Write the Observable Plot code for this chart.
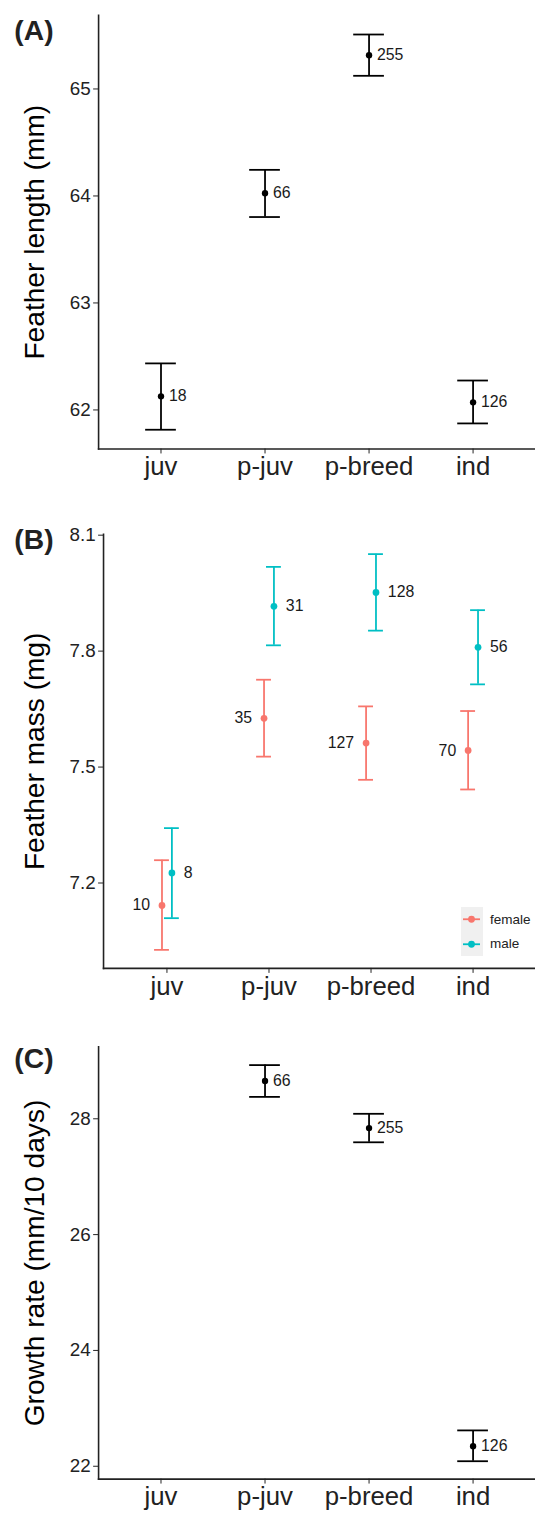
<!DOCTYPE html>
<html>
<head>
<meta charset="utf-8">
<script src="https://cdn.jsdelivr.net/npm/d3@7"></script>
<script src="https://cdn.jsdelivr.net/npm/@observablehq/plot@0.6"></script>
<style>
  html, body { margin: 0; padding: 0; background: #fff; overflow: hidden; }
  #wrap { position: relative; width: 535px; height: 1516px; overflow: hidden; font-family: "Liberation Sans", Arial, sans-serif; }
  .panel { position: absolute; left: 0; }
  .legend { position: absolute; font-size: 13.5px; color: #222; }
</style>
</head>
<body>
<div id="wrap"></div>
<script>
// ---------- data ----------
const stages = ["juv", "p-juv", "p-breed", "ind"];

// (A) Feather length (mm)
const lenMean = [62.127, 64.025, 65.315, 62.071];
const lenLo   = [61.815, 63.803, 65.123, 61.874];
const lenHi   = [62.435, 64.244, 65.509, 62.275];
const lenN    = [18, 66, 255, 126];
const lenTicks = [62, 63, 64, 65];

// (B) Feather mass (mg), by sex
const sexes = ["female", "male"];
const sexColors = ["#F8766D", "#00BFC4"];
const massFemaleMean = [7.142, 7.626, 7.562, 7.543];
const massFemaleLo   = [7.027, 7.527, 7.467, 7.442];
const massFemaleHi   = [7.259, 7.726, 7.657, 7.645];
const massFemaleN    = [10, 35, 127, 70];
const massMaleMean = [7.226, 7.916, 7.952, 7.810];
const massMaleLo   = [7.109, 7.815, 7.853, 7.714];
const massMaleHi   = [7.342, 8.018, 8.051, 7.906];
const massMaleN    = [8, 31, 128, 56];
const massTicks = [7.2, 7.5, 7.8, 8.1];

// (C) Growth rate (mm/10 days)
const rateStages = ["p-juv", "p-breed", "ind"];
const rateMean = [28.653, 27.840, 22.345];
const rateLo   = [28.378, 27.594, 22.087];
const rateHi   = [28.927, 28.086, 22.619];
const rateN    = [66, 255, 126];
const rateTicks = [22, 24, 26, 28];

const panelTags = ["(A)", "(B)", "(C)"];
const yTitles = ["Feather length (mm)", "Feather mass (mg)", "Growth rate (mm/10 days)"];

// ---------- build tables ----------
const lenData = stages.map((s, i) => ({stage: s, mean: lenMean[i], lo: lenLo[i], hi: lenHi[i], n: lenN[i]}));
const femaleData = stages.map((s, i) => ({stage: s, sex: sexes[0], mean: massFemaleMean[i], lo: massFemaleLo[i], hi: massFemaleHi[i], n: massFemaleN[i]}));
const maleData = stages.map((s, i) => ({stage: s, sex: sexes[1], mean: massMaleMean[i], lo: massMaleLo[i], hi: massMaleHi[i], n: massMaleN[i]}));
const rateData = rateStages.map((s, i) => ({stage: s, mean: rateMean[i], lo: rateLo[i], hi: rateHi[i], n: rateN[i]}));

// y-axis domain limits
const lenDomain = [61.635, 65.688];
const massDomain = [6.979, 8.1026];
const rateDomain = [21.778, 29.242];

const FONT = '"Liberation Sans", Arial, Helvetica, sans-serif';
const INK = "#1a1a1a";

function errorMarks(data, color, opts) {
  const {dx = 0, cap = 15.5, r = 3.2, labelDx = 8, labelAnchor = "start"} = opts;
  return [
    Plot.ruleX(data, {x: "stage", y1: "lo", y2: "hi", stroke: color, strokeWidth: 1.8, dx}),
    Plot.ruleY(data, {x1: "stage", x2: "stage", y: "hi", stroke: color, strokeWidth: 1.8, insetLeft: -cap, insetRight: -cap, dx}),
    Plot.ruleY(data, {x1: "stage", x2: "stage", y: "lo", stroke: color, strokeWidth: 1.8, insetLeft: -cap, insetRight: -cap, dx}),
    Plot.dot(data, {x: "stage", y: "mean", r, fill: color, stroke: null, dx}),
    Plot.text(data, {x: "stage", y: "mean", text: d => String(d.n), dx: dx + labelDx, textAnchor: labelAnchor, fontSize: 16, fill: INK})
  ];
}

function panel({height, marginTop, marginBottom, marginLeft, yDomain, yTicks, yFormat, title, tag, tagDy, marks}) {
  return Plot.plot({
    width: 540,
    height,
    marginTop,
    marginBottom,
    marginLeft,
    marginRight: 0,
    style: {fontFamily: FONT, background: "transparent", overflow: "visible", color: INK},
    x: {type: "point", domain: stages, padding: 0.6},
    y: {domain: yDomain},
    marks: [
      Plot.frame({anchor: "left", stroke: "#222", strokeWidth: 1.6}),
      Plot.frame({anchor: "bottom", stroke: "#222", strokeWidth: 1.6}),
      Plot.axisY({ticks: yTicks, tickFormat: yFormat, tickSize: 5, tickPadding: 3, fontSize: 19, label: null, color: "#222"}),
      Plot.axisX({tickSize: 5, tickPadding: 3, fontSize: 26, label: null, color: "#222"}),
      Plot.text([title], {frameAnchor: "left", rotate: -90, dx: 35.3 - marginLeft, textAnchor: "middle", fontSize: 28.4, fill: "#000", lineAnchor: "middle"}),
      Plot.text([tag], {frameAnchor: "top-left", dx: 14 - marginLeft, dy: tagDy, textAnchor: "start", lineAnchor: "bottom", fontSize: 28.5, fontWeight: "bold", fill: "#222"}),
      ...marks
    ]
  });
}

const wrap = document.getElementById("wrap");
function place(svg, top) {
  const d = document.createElement("div");
  d.className = "panel";
  d.style.top = top + "px";
  d.appendChild(svg);
  wrap.appendChild(d);
}

// Panel A
place(panel({
  height: 500, marginTop: 15, marginBottom: 47.3, marginLeft: 99,
  yDomain: lenDomain, yTicks: lenTicks, yFormat: d => String(d),
  title: yTitles[0], tag: panelTags[0], tagDy: 24.5,
  marks: errorMarks(lenData, "#000", {cap: 15.5})
}), 0);

// Panel B
place(panel({
  height: 510, marginTop: 34, marginBottom: 37.7, marginLeft: 104,
  yDomain: massDomain, yTicks: massTicks, yFormat: d3.format(".1f"),
  title: yTitles[1], tag: panelTags[1], tagDy: 14.5,
  marks: [
    ...errorMarks(femaleData, sexColors[0], {dx: -5, cap: 7.5, r: 3.4, labelDx: -12, labelAnchor: "end"}),
    ...errorMarks(maleData, sexColors[1], {dx: 5, cap: 7.5, r: 3.4, labelDx: 12, labelAnchor: "start"})
  ]
}), 500);

// Panel C
place(panel({
  height: 506, marginTop: 36.7, marginBottom: 33, marginLeft: 99,
  yDomain: rateDomain, yTicks: rateTicks, yFormat: d => String(d),
  title: yTitles[2], tag: panelTags[2], tagDy: 21.8,
  marks: errorMarks(rateData, "#000", {cap: 15.5})
}), 1010);

// Legend for panel B (inside plot area, bottom-right)
const legend = document.createElement("div");
legend.className = "legend";
legend.style.left = "461px";
legend.style.top = "907px";
sexes.forEach((s, i) => {
  const row = document.createElement("div");
  row.style.cssText = "display:flex;align-items:center;height:24.5px;";
  const key = document.createElementNS("http://www.w3.org/2000/svg", "svg");
  key.setAttribute("width", "22");
  key.setAttribute("height", "24.5");
  key.style.background = "#f0f0f0";
  key.style.display = "block";
  const ln = document.createElementNS("http://www.w3.org/2000/svg", "line");
  ln.setAttribute("x1", "2"); ln.setAttribute("x2", "19");
  ln.setAttribute("y1", "12.25"); ln.setAttribute("y2", "12.25");
  ln.setAttribute("stroke", sexColors[i]); ln.setAttribute("stroke-width", "1.8");
  const c = document.createElementNS("http://www.w3.org/2000/svg", "circle");
  c.setAttribute("cx", "10.5"); c.setAttribute("cy", "12.25"); c.setAttribute("r", "3.4");
  c.setAttribute("fill", sexColors[i]);
  key.appendChild(ln); key.appendChild(c);
  const lab = document.createElement("span");
  lab.textContent = s;
  lab.style.marginLeft = "7px";
  row.appendChild(key); row.appendChild(lab);
  legend.appendChild(row);
});
wrap.appendChild(legend);
</script>
</body>
</html>
